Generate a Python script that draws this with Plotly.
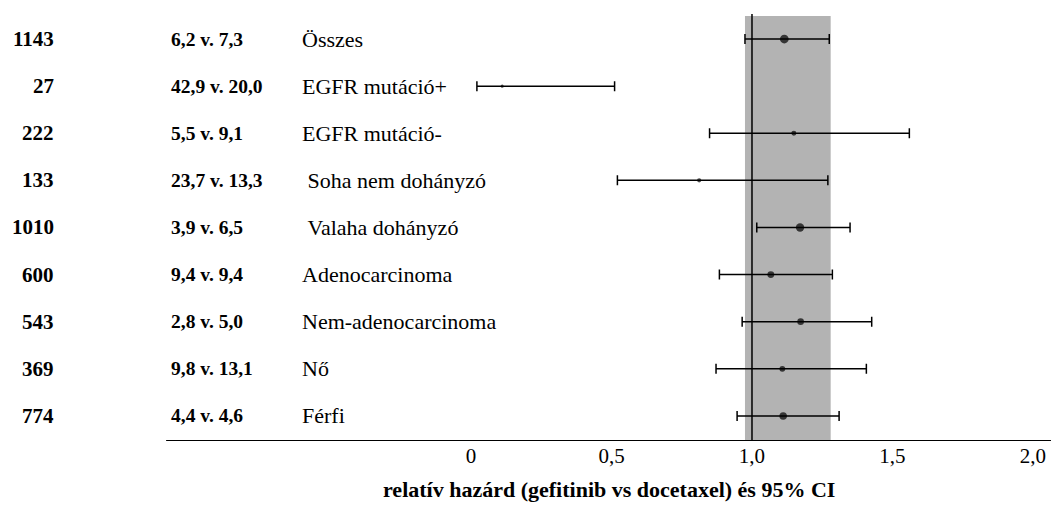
import math
import plotly.graph_objects as go

# ---- data ----
n_patients = [1143, 27, 222, 133, 1010, 600, 543, 369, 774]
pfs_text = ["6,2 v. 7,3", "42,9 v. 20,0", "5,5 v. 9,1", "23,7 v. 13,3", "3,9 v. 6,5",
            "9,4 v. 9,4", "2,8 v. 5,0", "9,8 v. 13,1", "4,4 v. 4,6"]
subgroups = ["Összes", "EGFR mutáció+", "EGFR mutáció-", "\u00a0Soha nem dohányzó",
             "\u00a0Valaha dohányzó", "Adenocarcinoma", "Nem-adenocarcinoma", "Nő", "Férfi"]
hr = [1.115, 0.111, 1.149, 0.812, 1.171, 1.067, 1.173, 1.108, 1.111]
ci_low = [0.975, 0.021, 0.849, 0.521, 1.017, 0.884, 0.965, 0.872, 0.947]
ci_high = [1.275, 0.511, 1.560, 1.270, 1.349, 1.286, 1.426, 1.407, 1.310]
tick_vals = [0, 0.5, 1.0, 1.5, 2.0]
tick_text = ["0", "0,5", "1,0", "1,5", "2,0"]
band_low, band_high = 0.975, 1.28
x_title = "relatív hazárd (gefitinib vs docetaxel) és 95% CI"

FONT = "Liberation Serif"
rows = list(range(len(subgroups)))
y_axis_pos = 8.532
x_line_start, x_line_end = -1.085, 2.064

sizes = [2 + 0.2 * math.sqrt(n) for n in n_patients]

fig = go.Figure()
fig.add_trace(go.Scatter(
    x=hr, y=rows, mode="markers",
    marker=dict(color="black", size=sizes, line=dict(width=0)),
    error_x=dict(type="data", symmetric=False,
                 array=[h - p for h, p in zip(ci_high, hr)],
                 arrayminus=[p - l for p, l in zip(hr, ci_low)],
                 color="black", thickness=1.5, width=5),
    showlegend=False, hoverinfo="skip",
))

annotations = []
for i in rows:
    annotations.append(dict(x=-1.478, y=i, xref="x", yref="y", text=f"<b>{n_patients[i]}</b>",
                            showarrow=False, xanchor="right", yanchor="middle",
                            font=dict(family=FONT, size=21, color="black")))
    annotations.append(dict(x=-1.076, y=i, xref="x", yref="y", text=f"<b>{pfs_text[i]}</b>",
                            showarrow=False, xanchor="left", yanchor="middle",
                            font=dict(family=FONT, size=19.5, color="black")))
    annotations.append(dict(x=-0.607, y=i, xref="x", yref="y", text=subgroups[i],
                            showarrow=False, xanchor="left", yanchor="middle",
                            font=dict(family=FONT, size=22, color="black")))
annotations.append(dict(x=(x_line_start + x_line_end) / 2, y=-0.111, xref="x", yref="paper",
                        text=f"<b>{x_title}</b>", showarrow=False, xanchor="center",
                        yanchor="middle", font=dict(family=FONT, size=22, color="black")))

shapes = [
    dict(type="rect", xref="x", yref="y", x0=band_low, x1=band_high, y0=-0.489, y1=y_axis_pos,
         fillcolor="#b3b3b3", line=dict(width=0), layer="below"),
    dict(type="line", xref="x", yref="y", x0=1.0, x1=1.0, y0=-0.531, y1=y_axis_pos,
         line=dict(color="black", width=1.5), layer="below"),
    dict(type="line", xref="x", yref="y", x0=x_line_start, x1=x_line_end, y0=y_axis_pos,
         y1=y_axis_pos, line=dict(color="black", width=2)),
]

fig.update_layout(
    width=1051, height=509,
    margin=dict(l=0, r=0, t=0, b=68, pad=0),
    paper_bgcolor="white", plot_bgcolor="white",
    xaxis=dict(range=[-1.6762, 2.0641], tickvals=tick_vals, ticktext=tick_text,
               showgrid=False, zeroline=False, showline=False, ticks="",
               tickfont=dict(family=FONT, size=21, color="black"), fixedrange=True),
    yaxis=dict(range=[y_axis_pos, -0.828], visible=False, fixedrange=True),
    annotations=annotations, shapes=shapes,
)

fig.write_html("out.html", config={"displayModeBar": False},
               post_script="document.body.style.margin='0';")
